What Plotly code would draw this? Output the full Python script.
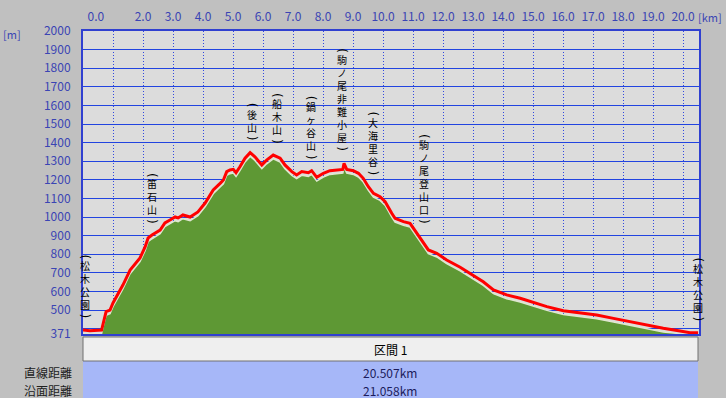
import plotly.graph_objects as go
import numpy as np

# ---- data ----
dist_km = [0.0, 0.23, 0.62, 0.67, 0.77, 0.9, 1.0, 1.33, 1.57, 1.9, 2.07, 2.17, 2.3, 2.57, 2.73,
           2.9, 3.07, 3.17, 3.33, 3.57, 3.83, 4.07, 4.13, 4.34, 4.57, 4.68, 4.79, 4.9, 5.01, 5.1,
           5.23, 5.4, 5.57, 5.73, 5.96, 6.12, 6.34, 6.57, 6.73, 6.96, 7.12, 7.29, 7.51, 7.62, 7.79,
           8.01, 8.23, 8.46, 8.66, 8.7, 8.79, 9.01, 9.18, 9.34, 9.51, 9.68, 9.9, 10.07, 10.18, 10.29,
           10.4, 10.68, 10.9, 11.01, 11.18, 11.34, 11.51, 11.79, 12.12, 12.57, 13.01, 13.34, 13.68,
           14.12, 14.57, 15.12, 15.46, 16.01, 16.57, 17.12, 17.68, 18.23, 18.79, 19.34, 19.9, 20.23, 20.5]
elev_m = [392, 389, 392, 430, 491, 500, 538, 634, 715, 780, 839, 887, 903, 930, 968,
          984, 1000, 995, 1011, 1000, 1027, 1075, 1091, 1145, 1181, 1199, 1244, 1253, 1256, 1238,
          1270, 1316, 1346, 1324, 1280, 1306, 1333, 1316, 1280, 1244, 1226, 1244, 1238, 1249, 1213,
          1235, 1249, 1253, 1256, 1289, 1256, 1249, 1235, 1208, 1163, 1127, 1109, 1082, 1047, 1020,
          993, 975, 966, 939, 903, 859, 823, 805, 769, 730, 688, 652, 608,
          581, 563, 536, 518, 496, 486, 473, 455, 437, 419, 402, 387, 378, 378]

waypoint_names = ["松木公園", "笛石山", "後山", "船木山", "鍋ヶ谷山", "駒ノ尾非難小屋", "大海里谷", "駒ノ尾登山口", "松木公園"]
waypoint_km = [0.05, 2.3, 5.63, 6.47, 7.6, 8.63, 9.67, 11.37, 20.5]

x_tick_km = [0, 2, 3, 4, 5, 6, 7, 8, 9, 10, 11, 12, 13, 14, 15, 16, 17, 18, 19, 20]
x_tick_text = ["%.1f" % v for v in x_tick_km]
y_tick_vals = [371, 400, 500, 600, 700, 800, 900, 1000, 1100, 1200, 1300, 1400, 1500, 1600, 1700, 1800, 1900, 2000]
y_tick_text = ["371", ""] + [str(v) for v in y_tick_vals[2:]]

section_title = "区間 1"
row_labels = ["直線距離", "沿面距離"]
row_values = ["20.507km", "21.058km"]

# ---- layout constants ----
W, H = 726, 398
L, R, T, B = 83, 27, 31, 64
X_MAX = 20.53
Y_MIN, Y_MAX = 371, 2000
PW, PH = W - L - R, H - T - B
BLUE_TXT = "#3a44b4"
JP = "Noto Sans CJK JP"

def pxx(px):
    return (px - L) / PW

def pxy(py):
    return (H - B - py) / PH

fig = go.Figure()

shadow = [max(e - 20, Y_MIN + 2) for e in elev_m]
fig.add_trace(go.Scatter(x=dist_km, y=shadow, mode="lines", fill="tozeroy",
                         fillcolor="#5e9834", line=dict(color="#dfe6cf", width=1.5),
                         hoverinfo="skip", showlegend=False))
fig.add_trace(go.Scatter(x=dist_km, y=elev_m, mode="lines",
                         line=dict(color="#ff0000", width=3), showlegend=False))
# invisible trace for the top axis
fig.add_trace(go.Scatter(x=[0, X_MAX], y=[Y_MIN, Y_MIN], xaxis="x2", mode="lines",
                         line=dict(width=0), opacity=0, showlegend=False, hoverinfo="skip"))

# first label (0.0) is drawn slightly inside the plot
top_vals = [v if v != 0 else 0.43 for v in x_tick_km]

fig.update_layout(
    width=W, height=H,
    margin=dict(l=L, r=R, t=T, b=B, pad=0),
    paper_bgcolor="#c0c0c0", plot_bgcolor="#dcdcdc",
    font=dict(family=JP, size=12, color="black"),
    xaxis=dict(range=[0, X_MAX], tickvals=list(range(0, 21)), showticklabels=False,
               showgrid=True, gridcolor="#3048e0", griddash="1px,2px", gridwidth=1,
               zeroline=False, showline=True, linecolor="#3040d0", linewidth=2, mirror=True,
               ticks="", automargin=False),
    xaxis2=dict(range=[0, X_MAX], overlaying="x", side="top", tickvals=top_vals,
                ticktext=x_tick_text, showgrid=False, zeroline=False, showline=False,
                ticks="outside", ticklen=4, tickcolor="rgba(0,0,0,0)", automargin=False,
                tickfont=dict(family=JP, size=12, color=BLUE_TXT)),
    yaxis=dict(range=[Y_MIN, Y_MAX], tickvals=y_tick_vals, ticktext=y_tick_text,
               showgrid=True, gridcolor="#2244e0", gridwidth=1, zeroline=False,
               showline=True, linecolor="#3040d0", linewidth=2, mirror=True,
               ticks="outside", ticklen=8, tickcolor="rgba(0,0,0,0)", automargin=False,
               tickfont=dict(family=JP, size=12, color=BLUE_TXT)),
)

# axis unit labels
fig.add_annotation(xref="paper", yref="paper", x=pxx(1), xanchor="left", y=pxy(34),
                   yanchor="middle", text="[m]",
                   showarrow=False, font=dict(family=JP, size=11, color=BLUE_TXT))
fig.add_annotation(xref="paper", yref="paper", x=pxx(724), xanchor="right", y=pxy(17),
                   yanchor="middle", text="[km]",
                   showarrow=False, font=dict(family=JP, size=11, color=BLUE_TXT))

# vertical waypoint labels (one glyph per line)
PX_PER_M = PH / (Y_MAX - Y_MIN)
FS = 10
LINE = 1.3 * FS
def add_vlabel(name, xk):
    lo, hi = xk - 0.2, xk + 0.2
    local = [e for d, e in zip(dist_km, elev_m) if lo <= d <= hi]
    base = (max(local) if local else float(np.interp(xk, dist_km, elev_m))) + 12 / PX_PER_M
    fig.add_annotation(x=xk, y=base, text=")", textangle=90, showarrow=False, yshift=2,
                       yanchor="middle", borderpad=0,
                       font=dict(family="DejaVu Sans", size=12, color="black"))
    fig.add_annotation(x=xk, y=base, text="<br>".join(name), showarrow=False, yshift=5,
                       yanchor="bottom", borderpad=0, align="center",
                       font=dict(family=JP, size=FS, color="black"))
    top = 5 + LINE * len(name) + 2
    fig.add_annotation(x=xk, y=base, text="(", textangle=90, showarrow=False, yshift=top + 2,
                       yanchor="middle", borderpad=0,
                       font=dict(family="DejaVu Sans", size=12, color="black"))

for n, k in zip(waypoint_names, waypoint_km):
    add_vlabel(n, k)

# bottom table
fig.add_shape(type="rect", xref="paper", yref="paper", x0=pxx(83), x1=pxx(698),
              y0=pxy(398), y1=pxy(361), fillcolor="#a6b7f8", line=dict(width=0))
fig.add_shape(type="rect", xref="paper", yref="paper", x0=pxx(83), x1=pxx(698),
              y0=pxy(361), y1=pxy(337), fillcolor="#efefef", line=dict(color="#707070", width=1))
fig.add_annotation(xref="paper", yref="paper", x=pxx(390), y=pxy(349), yanchor="middle",
                   text=section_title, showarrow=False, font=dict(family=JP, size=12, color="black"))
for i, (lab, val) in enumerate(zip(row_labels, row_values)):
    yy = pxy(372 + 18 * i)
    fig.add_annotation(xref="paper", yref="paper", x=pxx(74), y=yy, xanchor="right",
                       yanchor="middle", text=lab,
                       showarrow=False, font=dict(family=JP, size=12, color="#202020"))
    fig.add_annotation(xref="paper", yref="paper", x=pxx(390), y=yy, yanchor="middle", text=val,
                       showarrow=False, font=dict(family=JP, size=12, color="#1c1c5c"))

fig.write_html("out.html", config={"displayModeBar": False},
               post_script="document.body.style.margin='0';document.body.style.overflow='hidden';")
